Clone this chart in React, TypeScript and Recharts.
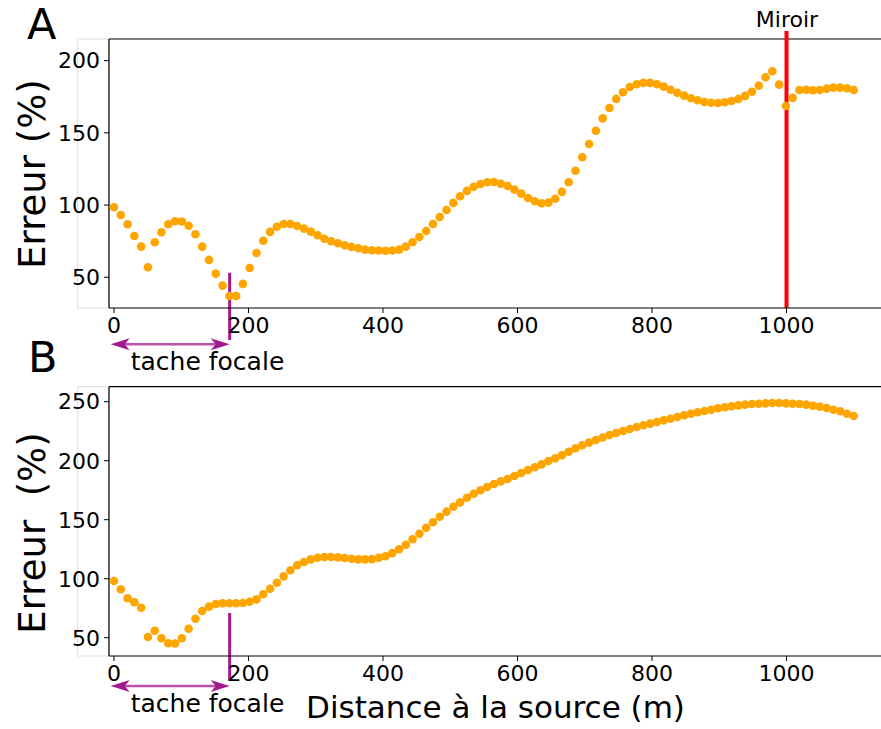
import React from 'react';
import { ScatterChart, Scatter, XAxis, YAxis, ReferenceLine } from 'recharts';

// Distance to the source (m) for each measurement point
const distances = [
  0, 10.1, 20.2, 30.3, 40.4, 50.5, 60.6, 70.6, 80.7, 90.8,
  100.9, 111.0, 121.1, 131.2, 141.3, 151.4, 161.5, 171.6, 181.7, 191.7,
  201.8, 211.9, 222.0, 232.1, 242.2, 252.3, 262.4, 272.5, 282.6, 292.7,
  302.8, 312.8, 322.9, 333.0, 343.1, 353.2, 363.3, 373.4, 383.5, 393.6,
  403.7, 413.8, 423.9, 433.9, 444.0, 454.1, 464.2, 474.3, 484.4, 494.5,
  504.6, 514.7, 524.8, 534.9, 545.0, 555.0, 565.1, 575.2, 585.3, 595.4,
  605.5, 615.6, 625.7, 635.8, 645.9, 656.0, 666.1, 676.1, 686.2, 696.3,
  706.4, 716.5, 726.6, 736.7, 746.8, 756.9, 767.0, 777.1, 787.2, 797.2,
  807.3, 817.4, 827.5, 837.6, 847.7, 857.8, 867.9, 878.0, 888.1, 898.2,
  908.3, 918.3, 928.4, 938.5, 948.6, 958.7, 968.8, 978.9, 989.0, 999.1,
  1009.2, 1019.3, 1029.4, 1039.4, 1049.5, 1059.6, 1069.7, 1079.8, 1089.9, 1100,
];

// Panel A: error (%)
const errorA = [
  98.5, 93.1, 86.7, 78.6, 71.2, 56.9, 74.2, 81.2, 86.7, 88.8,
  88.6, 85.7, 79.8, 71.2, 62.0, 52.5, 44.2, 37.0, 37.0, 45.4,
  56.4, 66.8, 75.3, 81.4, 85.0, 86.9, 86.9, 85.5, 83.7, 81.6,
  79.1, 76.7, 74.9, 73.5, 72.2, 71.0, 70.1, 69.1, 68.7, 68.5,
  68.4, 68.5, 69.1, 71.2, 74.2, 77.9, 82.0, 86.9, 91.7, 96.6,
  101.5, 106.1, 109.8, 112.7, 114.6, 115.8, 116.0, 114.8, 113.2, 110.7,
  107.9, 104.9, 102.6, 101.2, 101.7, 104.4, 109.1, 115.8, 123.8, 133.1,
  142.3, 151.5, 160.0, 167.2, 173.5, 178.1, 181.8, 183.7, 184.6, 184.6,
  183.7, 182.0, 179.9, 177.8, 175.8, 174.0, 172.6, 171.4, 170.9, 170.7,
  171.2, 172.1, 173.5, 175.6, 178.5, 182.7, 188.5, 192.7, 183.4, 168.6,
  174.2, 179.7, 179.9, 179.5, 179.7, 180.6, 181.3, 181.3, 180.9, 179.7,
];

// Panel B: error (%)
const errorB = [
  98.1, 91.0, 83.4, 80.0, 75.4, 50.6, 55.9, 49.5, 45.3, 45.1,
  49.5, 57.6, 66.1, 72.6, 76.3, 78.6, 79.2, 79.2, 79.2, 79.4,
  80.5, 82.5, 86.8, 91.5, 96.6, 102.0, 107.1, 111.4, 114.2, 116.4,
  117.8, 118.4, 118.4, 118.1, 117.5, 116.9, 116.4, 116.4, 116.6, 117.8,
  119.0, 121.7, 125.0, 128.8, 133.4, 138.1, 143.2, 147.8, 152.5, 156.8,
  161.0, 164.7, 168.6, 172.0, 174.9, 177.7, 180.3, 182.5, 184.5, 187.0,
  189.6, 192.1, 194.4, 196.9, 199.7, 202.0, 204.6, 207.6, 210.5, 213.1,
  215.3, 217.5, 219.6, 221.8, 223.5, 225.2, 226.9, 228.6, 230.0, 231.4,
  232.8, 234.2, 235.6, 237.0, 238.5, 239.8, 241.0, 242.1, 243.2, 244.4,
  245.3, 246.1, 246.9, 247.5, 248.1, 248.3, 248.6, 248.9, 248.9, 248.6,
  248.3, 248.1, 247.5, 246.6, 245.8, 244.7, 243.2, 241.9, 239.8, 237.9,
];

const xTicks = [0, 200, 400, 600, 800, 1000];
const yTicksA = [50, 100, 150, 200];
const yTicksB = [50, 100, 150, 200, 250];
const xDomain: [number, number] = [-7.4, 1140.5];
const yDomainA: [number, number] = [28.7, 215];
const yDomainB: [number, number] = [34.5, 262.7];
const mirrorX = 1000;
const focalX = 172;
const arrowStartX = -4.9;

const dataA = distances.map((x, i) => ({ x, y: errorA[i] }));
const dataB = distances.map((x, i) => ({ x, y: errorB[i] }));

const FONT = '"DejaVu Sans", sans-serif';
const ORANGE = '#ffa500';
const MAGENTA = '#a5178f';

const Dot = (p: any) => <circle cx={p.cx} cy={p.cy} r={4.3} fill={ORANGE} />;

const Arrow = (p: any) => {
  const xa = Math.min(p.x1, p.x2);
  const xb = Math.max(p.x1, p.x2);
  const y = p.y1;
  const L = 19;
  const H = 6;
  const back = 14;
  return (
    <g>
      <line x1={xa + back} y1={y} x2={xb - back} y2={y} stroke={MAGENTA} strokeWidth={2.5} strokeOpacity={0.75} />
      <polygon points={`${xa},${y} ${xa + L},${y - H} ${xa + back},${y} ${xa + L},${y + H}`} fill={MAGENTA} />
      <polygon points={`${xb},${y} ${xb - L},${y - H} ${xb - back},${y} ${xb - L},${y + H}`} fill={MAGENTA} />
    </g>
  );
};

type PanelProps = {
  data: { x: number; y: number }[];
  yDomain: [number, number];
  yTicks: number[];
  top: number;
  bottom: number;
  focalTop: number;
  focalBottom: number;
  arrowY: number;
  mirror?: boolean;
};

function Panel({ data, yDomain, yTicks, top, bottom, focalTop, focalBottom, arrowY, mirror }: PanelProps) {
  const xAxisH = 30;
  return (
    <div style={{ position: 'absolute', left: 0, top: 0 }}>
      <ScatterChart
        width={881}
        height={729}
        margin={{ top, right: 0, bottom: 729 - bottom - xAxisH, left: 49 }}
      >
        <XAxis
          type="number"
          dataKey="x"
          domain={xDomain}
          allowDataOverflow
          ticks={xTicks}
          interval={0}
          height={xAxisH}
          tickSize={5}
          tickMargin={4}
          axisLine={{ stroke: '#000', strokeWidth: 1.2 }}
          tickLine={{ stroke: '#000', strokeWidth: 1 }}
          tick={{ fill: '#000', fontSize: 22, fontFamily: FONT }}
        />
        <YAxis
          type="number"
          dataKey="y"
          domain={yDomain}
          allowDataOverflow
          ticks={yTicks}
          interval={0}
          width={60}
          tickSize={5}
          tickMargin={4}
          axisLine={{ stroke: '#000', strokeWidth: 1.2 }}
          tickLine={{ stroke: '#000', strokeWidth: 1 }}
          tick={{ fill: '#000', fontSize: 22, fontFamily: FONT }}
        />
        <ReferenceLine y={yDomain[1]} stroke="#000" strokeWidth={1.2} />
        <Scatter data={data} shape={Dot} isAnimationActive={false} />
        {mirror ? (
          <ReferenceLine
            segment={[{ x: mirrorX, y: yDomain[0] }, { x: mirrorX, y: yDomain[1] + 5.5 }]}
            ifOverflow="visible"
            stroke="#ff0000"
            strokeWidth={4}
          />
        ) : null}
        <ReferenceLine
          segment={[{ x: focalX, y: focalTop }, { x: focalX, y: focalBottom }]}
          ifOverflow="visible"
          stroke={MAGENTA}
          strokeWidth={3}
        />
        <ReferenceLine
          segment={[{ x: arrowStartX, y: arrowY }, { x: focalX, y: arrowY }]}
          ifOverflow="visible"
          shape={Arrow}
        />
      </ScatterChart>
    </div>
  );
}

export default function App() {
  const t = { fontFamily: FONT, fill: '#000' } as const;
  return (
    <div style={{ position: 'absolute', left: 0, top: 0, width: 881, height: 729, background: '#fff', overflow: 'hidden' }}>
      <svg width={881} height={729} style={{ position: 'absolute', left: 0, top: 0 }}>
        <rect x={77.7} y={39} width={31} height={269} fill="none" stroke="#dcdcdc" strokeWidth={1} />
        <rect x={77.7} y={386.7} width={31} height={269.3} fill="none" stroke="#dcdcdc" strokeWidth={1} />
      </svg>
      <Panel
        data={dataA}
        yDomain={yDomainA}
        yTicks={yTicksA}
        top={39}
        bottom={308}
        focalTop={53.1}
        focalBottom={6.5}
        arrowY={3.6}
        mirror
      />
      <Panel
        data={dataB}
        yDomain={yDomainB}
        yTicks={yTicksB}
        top={386.7}
        bottom={656}
        focalTop={70.9}
        focalBottom={13.3}
        arrowY={9.1}
      />
      <svg width={881} height={729} style={{ position: 'absolute', left: 0, top: 0, pointerEvents: 'none' }}>
        <text x={27} y={39} fontSize={43} {...t}>A</text>
        <text x={28} y={372} fontSize={43} {...t}>B</text>
        <text x={787} y={27} fontSize={22} textAnchor="middle" {...t}>Miroir</text>
        <text x={207.5} y={370} fontSize={25} textAnchor="middle" {...t}>tache focale</text>
        <text x={207.5} y={711.7} fontSize={25} textAnchor="middle" {...t}>tache focale</text>
        <text transform="translate(45,174) rotate(-90)" fontSize={37} textAnchor="middle" {...t}>Erreur (%)</text>
        <text transform="translate(45,533) rotate(-90)" fontSize={37} textAnchor="middle" style={{ whiteSpace: 'pre' }} {...t}>Erreur  (%)</text>
        <text x={495.5} y={718} fontSize={31} textAnchor="middle" {...t}>Distance à la source (m)</text>
      </svg>
    </div>
  );
}
